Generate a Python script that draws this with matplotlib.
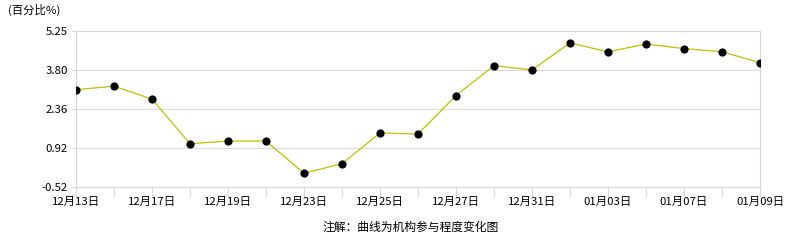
import matplotlib
matplotlib.use("Agg")
import matplotlib.pyplot as plt

plt.rcParams['font.family'] = ['Noto Sans CJK SC', 'DejaVu Sans']

dates = ["12月13日", "12月16日", "12月17日", "12月18日", "12月19日", "12月20日",
         "12月23日", "12月24日", "12月25日", "12月26日", "12月27日", "12月30日",
         "12月31日", "01月02日", "01月03日", "01月06日", "01月07日", "01月08日",
         "01月09日"]
values = [3.08, 3.21, 2.73, 1.08, 1.18, 1.18, -0.01, 0.34, 1.48, 1.44,
          2.86, 3.97, 3.81, 4.81, 4.48, 4.77, 4.60, 4.48, 4.08]
y_ticks = [-0.52, 0.92, 2.36, 3.80, 5.25]
y_labels = ["-0.52", "0.92", "2.36", "3.80", "5.25"]

figure = plt.figure(figsize=(7.86, 2.4), dpi=100)
axis = figure.add_axes([76 / 786, 1 - 187 / 240, 684 / 786, 156 / 240])

x = list(range(len(values)))
axis.plot(x, values, color="#c0c000", linewidth=0.9, zorder=2)
axis.scatter(x, values, s=24, color="black", zorder=3)

axis.set_xlim(0, len(values) - 1)
axis.set_ylim(y_ticks[0], y_ticks[-1])
axis.set_yticks(y_ticks)
axis.set_yticklabels(y_labels, fontsize=8.2)
axis.set_xticks(x)
axis.set_xticklabels([d if i % 2 == 0 else "" for i, d in enumerate(dates)], fontsize=8.2)
axis.tick_params(axis="x", length=7, color="#d8d8d8", pad=0)
axis.tick_params(axis="y", length=3, color="#d8d8d8", pad=3)
axis.grid(axis="y", color="#dcdcdc", linewidth=0.8)
for side in ["left", "right", "top", "bottom"]:
	axis.spines[side].set_color("#d8d8d8")
	axis.spines[side].set_linewidth(0.8)

figure.text(8 / 786, 1 - 10 / 240, "(百分比%)", fontsize=8.2, va="center", ha="left")
figure.text(411 / 786, 1 - 227 / 240, "注解：曲线为机构参与程度变化图", fontsize=8.5,
            va="center", ha="center")

figure.savefig("out.png", dpi=100)
